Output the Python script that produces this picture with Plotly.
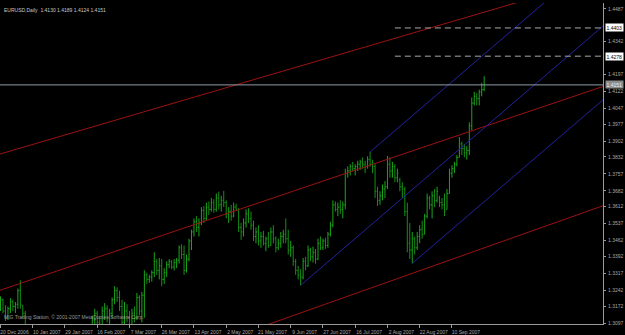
import plotly.graph_objects as go

# ---------------- data ----------------
opens = [1.3160,1.3200,1.3150,1.3120,1.3160,1.3190,1.3170,1.3180,1.3240,1.3175,
1.3140,1.3050,1.3000,1.2980,1.2990,1.3010,1.2970,1.2920,1.2950,1.2960,
1.2930,1.2970,1.2960,1.2900,1.2930,1.2970,1.3000,1.2990,1.3030,1.3010,
1.2980,1.2950,1.2980,1.3010,1.3040,1.3020,1.3060,1.3070,1.3110,1.3140,
1.3100,1.3090,1.3150,1.3160,1.3120,1.3140,1.3200,1.3240,1.3210,1.3170,
1.3100,1.3150,1.3120,1.3080,1.3140,1.3120,1.3210,1.3150,1.3220,1.3310,
1.3290,1.3300,1.3320,1.3370,1.3330,1.3350,1.3290,1.3320,1.3355,1.3370,
1.3345,1.3365,1.3375,1.3430,1.3400,1.3330,1.3380,1.3460,1.3500,1.3545,
1.3520,1.3540,1.3595,1.3560,1.3610,1.3600,1.3630,1.3600,1.3650,1.3620,
1.3640,1.3630,1.3580,1.3590,1.3570,1.3610,1.3600,1.3520,1.3500,1.3540,
1.3580,1.3560,1.3530,1.3480,1.3500,1.3460,1.3480,1.3450,1.3470,1.3440,
1.3500,1.3470,1.3430,1.3450,1.3480,1.3490,1.3470,1.3420,1.3430,1.3370,
1.3330,1.3310,1.3300,1.3370,1.3350,1.3420,1.3390,1.3410,1.3380,1.3450,
1.3430,1.3460,1.3440,1.3490,1.3530,1.3620,1.3600,1.3610,1.3600,1.3620,
1.3760,1.3770,1.3790,1.3780,1.3790,1.3800,1.3810,1.3800,1.3790,1.3820,
1.3800,1.3790,1.3680,1.3640,1.3660,1.3690,1.3700,1.3800,1.3770,1.3790,
1.3740,1.3730,1.3700,1.3690,1.3590,1.3450,1.3420,1.3470,1.3430,1.3480,
1.3510,1.3490,1.3570,1.3650,1.3620,1.3660,1.3640,1.3650,1.3630,1.3620,
1.3600,1.3670,1.3760,1.3780,1.3800,1.3830,1.3890,1.3870,1.3850,1.3860,
1.3970,1.4070,1.4100,1.4090,1.4120,1.4130]
highs = [1.3215,1.3205,1.3176,1.3170,1.3207,1.3200,1.3190,1.3250,1.3286,1.3176,
1.3150,1.3070,1.3030,1.3020,1.3050,1.3040,1.2990,1.2960,1.2990,1.2980,
1.2990,1.3000,1.2990,1.2950,1.2990,1.3020,1.3040,1.3050,1.3060,1.3040,
1.3010,1.3000,1.3030,1.3060,1.3070,1.3070,1.3090,1.3130,1.3160,1.3150,
1.3130,1.3170,1.3185,1.3175,1.3160,1.3210,1.3260,1.3255,1.3240,1.3200,
1.3190,1.3180,1.3150,1.3160,1.3170,1.3230,1.3220,1.3235,1.3330,1.3320,
1.3310,1.3330,1.3410,1.3380,1.3385,1.3380,1.3340,1.3370,1.3380,1.3375,
1.3380,1.3385,1.3440,1.3445,1.3440,1.3400,1.3470,1.3510,1.3560,1.3570,
1.3560,1.3610,1.3615,1.3630,1.3635,1.3650,1.3645,1.3670,1.3678,1.3660,
1.3682,1.3640,1.3610,1.3620,1.3630,1.3625,1.3605,1.3540,1.3560,1.3600,
1.3605,1.3590,1.3550,1.3520,1.3530,1.3500,1.3505,1.3480,1.3500,1.3520,
1.3530,1.3480,1.3470,1.3500,1.3510,1.3560,1.3510,1.3460,1.3440,1.3380,
1.3350,1.3335,1.3385,1.3390,1.3440,1.3430,1.3435,1.3425,1.3470,1.3480,
1.3470,1.3475,1.3500,1.3545,1.3640,1.3635,1.3630,1.3640,1.3635,1.3780,
1.3790,1.3800,1.3810,1.3800,1.3815,1.3820,1.3830,1.3815,1.3835,1.3854,
1.3820,1.3800,1.3700,1.3680,1.3710,1.3725,1.3836,1.3830,1.3810,1.3800,
1.3780,1.3740,1.3720,1.3700,1.3630,1.3540,1.3500,1.3480,1.3500,1.3530,
1.3550,1.3580,1.3670,1.3660,1.3680,1.3690,1.3700,1.3660,1.3650,1.3670,
1.3690,1.3780,1.3795,1.3810,1.3840,1.3920,1.3900,1.3890,1.3880,1.3985,
1.4095,1.4120,1.4115,1.4130,1.4160,1.4189]
lows = [1.3150,1.3140,1.3106,1.3110,1.3141,1.3150,1.3141,1.3160,1.3160,1.3120,
1.3040,1.2990,1.2950,1.2940,1.2960,1.2950,1.2900,1.2880,1.2920,1.2910,
1.2920,1.2940,1.2890,1.2870,1.2910,1.2950,1.2960,1.2970,1.2990,1.2960,
1.2930,1.2930,1.2960,1.2990,1.3000,1.2990,1.3020,1.3050,1.3080,1.3070,
1.3060,1.3080,1.3110,1.3100,1.3090,1.3120,1.3180,1.3190,1.3150,1.3080,
1.3090,1.3100,1.3060,1.3070,1.3100,1.3110,1.3130,1.3100,1.3120,1.3270,
1.3275,1.3280,1.3300,1.3310,1.3290,1.3260,1.3270,1.3300,1.3340,1.3335,
1.3330,1.3340,1.3360,1.3380,1.3310,1.3320,1.3370,1.3420,1.3480,1.3500,
1.3480,1.3530,1.3540,1.3550,1.3575,1.3590,1.3585,1.3590,1.3600,1.3590,
1.3610,1.3560,1.3540,1.3550,1.3565,1.3595,1.3500,1.3465,1.3480,1.3520,
1.3540,1.3510,1.3460,1.3450,1.3440,1.3430,1.3440,1.3415,1.3430,1.3440,
1.3450,1.3410,1.3420,1.3430,1.3450,1.3450,1.3400,1.3390,1.3350,1.3310,
1.3290,1.3264,1.3290,1.3330,1.3345,1.3370,1.3365,1.3360,1.3375,1.3420,
1.3420,1.3425,1.3430,1.3480,1.3520,1.3590,1.3570,1.3580,1.3560,1.3600,
1.3740,1.3750,1.3770,1.3750,1.3770,1.3775,1.3780,1.3760,1.3780,1.3790,
1.3760,1.3650,1.3615,1.3620,1.3640,1.3650,1.3690,1.3740,1.3740,1.3720,
1.3720,1.3680,1.3650,1.3570,1.3410,1.3380,1.3361,1.3400,1.3420,1.3450,
1.3470,1.3490,1.3560,1.3600,1.3560,1.3610,1.3630,1.3610,1.3600,1.3570,
1.3600,1.3670,1.3740,1.3760,1.3790,1.3830,1.3840,1.3830,1.3820,1.3840,
1.3950,1.4060,1.4060,1.4060,1.4100,1.4124]
closes = [1.3200,1.3150,1.3120,1.3160,1.3190,1.3170,1.3180,1.3240,1.3180,1.3140,
1.3050,1.3000,1.2980,1.2990,1.3010,1.2970,1.2920,1.2950,1.2960,1.2930,
1.2970,1.2960,1.2900,1.2930,1.2970,1.3000,1.2990,1.3030,1.3010,1.2980,
1.2950,1.2980,1.3010,1.3040,1.3020,1.3060,1.3070,1.3110,1.3140,1.3100,
1.3090,1.3150,1.3160,1.3120,1.3140,1.3200,1.3240,1.3210,1.3170,1.3100,
1.3150,1.3120,1.3080,1.3140,1.3120,1.3210,1.3150,1.3220,1.3310,1.3290,
1.3300,1.3320,1.3370,1.3330,1.3350,1.3290,1.3320,1.3355,1.3370,1.3345,
1.3365,1.3375,1.3430,1.3400,1.3330,1.3380,1.3460,1.3500,1.3545,1.3520,
1.3540,1.3595,1.3560,1.3610,1.3600,1.3630,1.3600,1.3650,1.3620,1.3640,
1.3630,1.3580,1.3590,1.3570,1.3610,1.3600,1.3520,1.3500,1.3540,1.3580,
1.3560,1.3530,1.3480,1.3500,1.3460,1.3480,1.3450,1.3470,1.3440,1.3500,
1.3470,1.3430,1.3450,1.3480,1.3490,1.3470,1.3420,1.3430,1.3370,1.3330,
1.3310,1.3300,1.3370,1.3350,1.3420,1.3390,1.3410,1.3380,1.3450,1.3430,
1.3460,1.3440,1.3490,1.3530,1.3620,1.3600,1.3610,1.3600,1.3620,1.3760,
1.3770,1.3790,1.3780,1.3790,1.3800,1.3810,1.3800,1.3790,1.3820,1.3800,
1.3790,1.3680,1.3640,1.3660,1.3690,1.3700,1.3800,1.3770,1.3790,1.3740,
1.3760,1.3700,1.3690,1.3590,1.3450,1.3420,1.3470,1.3430,1.3480,1.3510,
1.3490,1.3570,1.3650,1.3620,1.3660,1.3640,1.3680,1.3630,1.3620,1.3590,
1.3670,1.3760,1.3780,1.3800,1.3830,1.3890,1.3870,1.3850,1.3860,1.3970,
1.4070,1.4100,1.4090,1.4120,1.4130,1.4151]

date_tick_bars = [0, 13, 26, 39, 52, 65, 78, 91, 104, 117, 130, 143, 156, 169, 182]
date_tick_labels = ["20 Dec 2006", "10 Jan 2007", "29 Jan 2007", "16 Feb 2007", "7 Mar 2007",
                    "26 Mar 2007", "13 Apr 2007", "2 May 2007", "21 May 2007", "9 Jun 2007",
                    "27 Jun 2007", "16 Jul 2007", "2 Aug 2007", "22 Aug 2007", "10 Sep 2007"]
price_ticks = [1.4487, 1.4342, 1.4197, 1.4122, 1.4047, 1.3977, 1.3902, 1.3832, 1.3757, 1.3682,
               1.3612, 1.3537, 1.3462, 1.3392, 1.3317, 1.3242, 1.3172, 1.3097]

# Andrews pitchfork anchors (bar index, price): pivot low, swing high, swing low
fork_bars = [121, 149, 166]
fork_prices = [1.3264, 1.3854, 1.3361]

# red lines: (bar, price) pairs on each line
red_bars = [-0.2, 242.9]
red_top = [1.3845, 1.4627]
red_mid = [1.3242, 1.4144]
red_low = [1.2670, 1.3616]

# horizontal levels
dashed_levels = [1.4403, 1.4278]
dashed_start_bar = 159
bid_price = 1.4151
header = "EURUSD,Daily  1.4130 1.4189 1.4124 1.4151"
footer = "MIG Trading Station, © 2001-2007 MetaQuotes Software Corp."

# ---------------- figure ----------------
bars = list(range(len(closes)))
FONT = "Liberation Sans"
AX = "#9a9a9a"
X_END = 242.9

fig = go.Figure()
fig.add_trace(go.Ohlc(
    x=bars, open=opens, high=highs, low=lows, close=closes,
    increasing=dict(line=dict(color="#1ba51b", width=1)),
    decreasing=dict(line=dict(color="#168f16", width=1)),
    tickwidth=0.4, hoverinfo="skip", showlegend=False))

def add_line(xs, ys, color, dash="solid"):
    fig.add_trace(go.Scatter(x=xs, y=ys, mode="lines", hoverinfo="skip", showlegend=False,
                             line=dict(color=color, width=1, dash=dash)))

# red lines
for ln in (red_top, red_mid, red_low):
    add_line(red_bars, ln, "#9c1212")

# pitchfork
b1, b2, b3 = fork_bars
p1, p2, p3 = fork_prices
mid_b = (b2 + b3) / 2.0
mid_p = (p2 + p3) / 2.0
slope = (mid_p - p1) / (mid_b - b1)
far = 260
add_line([b1, far], [p1, p1 + slope * (far - b1)], "#22229e")
add_line([b2, far], [p2, p2 + slope * (far - b2)], "#22229e")
add_line([b3, far], [p3, p3 + slope * (far - b3)], "#22229e")

# horizontal lines
for lv in dashed_levels:
    add_line([dashed_start_bar, X_END + 1], [lv, lv], "#a8a8a8", dash="6px,4px")
add_line([-1, X_END + 1], [bid_price, bid_price], "#8e9ca6")

annotations = [
    dict(text=header, xref="paper", yref="paper", x=0.003, y=0.993, xanchor="left", yanchor="top",
         showarrow=False, font=dict(family=FONT, size=5, color="#c8c8c8")),
    dict(text=footer, xref="paper", yref="paper", x=0.003, y=0.005, xanchor="left", yanchor="bottom",
         showarrow=False, font=dict(family=FONT, size=5, color="#9a9a9a")),
]
for lv in dashed_levels:
    annotations.append(dict(text=f"{lv:.4f}", xref="paper", yref="y", x=1, y=lv, xanchor="left",
                            xshift=2, showarrow=False, bgcolor="#ffffff", borderpad=0.5,
                            font=dict(family=FONT, size=5, color="#000000")))
annotations.append(dict(text=f"{bid_price:.4f}", xref="paper", yref="y", x=1, y=bid_price,
                        xanchor="left", xshift=2, showarrow=False, bgcolor="#8c8c8c", borderpad=0.5,
                        font=dict(family=FONT, size=5, color="#f0f0f0")))

fig.update_layout(
    width=625, height=335,
    margin=dict(l=0, r=22, t=3, b=9),
    paper_bgcolor="#000000", plot_bgcolor="#000000",
    showlegend=False, hovermode=False,
    annotations=annotations,
    xaxis=dict(range=[-0.2, X_END], rangeslider=dict(visible=False), showgrid=False, zeroline=False,
               showline=True, linecolor=AX, linewidth=1,
               tickmode="array", tickvals=date_tick_bars, ticktext=date_tick_labels,
               ticks="outside", ticklen=3, tickcolor=AX, ticklabelshift=14, ticklabelstandoff=0,
               tickfont=dict(family=FONT, size=5, color="#a8a8a8")),
    yaxis=dict(range=[1.30926, 1.45134], side="right", showgrid=False, zeroline=False,
               showline=True, linecolor=AX, linewidth=1,
               tickmode="array", tickvals=price_ticks, ticktext=[f"{v:.4f}" for v in price_ticks],
               ticks="outside", ticklen=2, tickcolor=AX, ticklabelstandoff=1,
               tickfont=dict(family=FONT, size=5, color="#a8a8a8")),
)

fig.write_html("out.html")
